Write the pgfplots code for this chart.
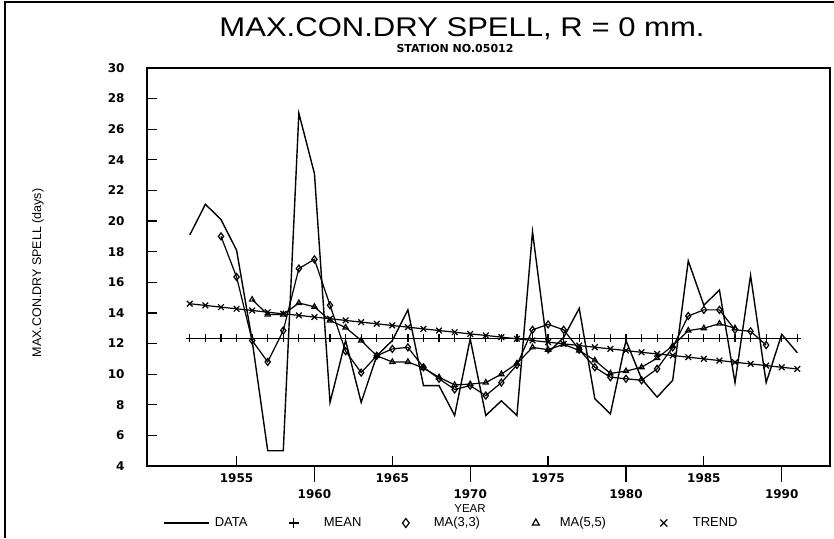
\documentclass[border=0pt]{standalone}
\usepackage{pgfplots}
\pgfplotsset{compat=1.18}
\usepackage{fontspec}
\setmainfont{Liberation Sans}
\newfontfamily\titlefont{Liberation Sans}[FakeStretch=1.15]
\newfontfamily\tickfont{DejaVu Sans}
\begin{document}
\begin{tikzpicture}[x=1pt,y=1pt]
\useasboundingbox (0pt,0pt) rectangle (834pt,-538pt);
\draw[line width=2pt] (5pt,-538pt) -- (5pt,-2pt) -- (834pt,-2pt);
\node[anchor=base,font=\titlefont\fontsize{27}{27}\selectfont] at (462pt,-36pt) {MAX.CON.DRY SPELL, R = 0 mm.};
\node[anchor=base,font=\tickfont\bfseries\fontsize{11}{11}\selectfont] at (455pt,-52pt) {STATION NO.05012};
\node[rotate=90,font=\fontsize{12.5}{12.5}\selectfont] at (38pt,-273pt) {MAX.CON.DRY SPELL (days)};
\node[anchor=base,font=\fontsize{11.5}{11.5}\selectfont] at (470pt,-512pt) {YEAR};
\begin{axis}[
  at={(147pt,-466pt)}, anchor=south west,
  scale only axis, width=683pt, height=398pt,
  xmin=1949.25, xmax=1993.1, ymin=4, ymax=30,
  axis line style={line width=1.4pt},
  xtick={1955,1965,1975,1985},
  xticklabels={1955,1965,1975,1985},
  extra x ticks={1960,1970,1980,1990},
  extra x tick labels={1960,1970,1980,1990},
  extra x tick style={tick align=outside, major tick length=16pt},
  ytick={4,6,...,30},
  tick align=inside, major tick length=10pt,
  tick style={line width=1.2pt, black},
  xtick pos=bottom, ytick pos=left,
  ticklabel style={font=\tickfont\bfseries\fontsize{12}{12}\selectfont},
  xticklabel style={yshift=-4pt},
  yticklabel style={xshift=-19pt},
  /pgf/number format/assume math mode=true,
  legend columns=5,
  legend style={at={(axis description cs:0.0234,-0.1432)}, anchor=west, draw=none, fill=none,
    inner sep=0pt, column sep=0pt, nodes={inner sep=0pt}, font=\fontsize{13}{13}\selectfont},
]
\addlegendimage{legend image code/.code={\draw[line width=1.3pt] (0pt,0pt) -- (45pt,0pt); \path[draw=none,fill=none] (0pt,-5pt) rectangle (51pt,5pt);}}
\addlegendentry{\makebox[73pt][l]{DATA}}
\addlegendimage{legend image code/.code={\draw[mark=+,mark size=5pt,line width=1.2pt] plot coordinates {(0pt,0pt)}; \path[draw=none,fill=none] (-6pt,-5pt) rectangle (30pt,5pt);}}
\addlegendentry{\makebox[76pt][l]{MEAN}}
\addlegendimage{legend image code/.code={\draw[mark=diamond,mark size=4.5pt,line width=1.2pt] plot coordinates {(0pt,0pt)}; \path[draw=none,fill=none] (-6pt,-5pt) rectangle (28pt,5pt);}}
\addlegendentry{\makebox[96pt][l]{MA(3,3)}}
\addlegendimage{legend image code/.code={\draw[mark=triangle,mark size=4pt,line width=1.2pt] plot coordinates {(0pt,0pt)}; \path[draw=none,fill=none] (-6pt,-5pt) rectangle (24pt,5pt);}}
\addlegendentry{\makebox[98pt][l]{MA(5,5)}}
\addlegendimage{legend image code/.code={\draw[mark=x,mark size=5pt,line width=1.2pt] plot coordinates {(0pt,0pt)}; \path[draw=none,fill=none] (-6pt,-5pt) rectangle (29pt,5pt);}}
\addlegendentry{\makebox[50pt][l]{TREND}}

% DATA
\addplot[forget plot, black, line width=1.4pt, no marks] coordinates {
(1952,19.1)(1953,21.1)(1954,20.1)(1955,18.1)(1956,12.2)(1957,5.0)(1958,5.0)(1959,27.05)(1960,23.1)(1961,8.15)
(1962,12.2)(1963,8.15)(1964,11.2)(1965,12.2)(1966,14.2)(1967,9.25)(1968,9.25)(1969,7.3)(1970,12.3)(1971,7.3)
(1972,8.26)(1973,7.3)(1974,19.3)(1975,11.4)(1976,12.4)(1977,14.3)(1978,8.4)(1979,7.4)(1980,12.2)(1981,9.7)
(1982,8.5)(1983,9.6)(1984,17.4)(1985,14.5)(1986,15.5)(1987,9.45)(1988,16.45)(1989,9.45)(1990,12.6)(1991,11.4)};
% MEAN
\addplot[forget plot, black, line width=1.2pt, mark=+, mark size=4pt] coordinates {
(1952,12.35)(1953,12.35)(1954,12.35)(1955,12.35)(1956,12.35)(1957,12.35)(1958,12.35)(1959,12.35)(1960,12.35)(1961,12.35)
(1962,12.35)(1963,12.35)(1964,12.35)(1965,12.35)(1966,12.35)(1967,12.35)(1968,12.35)(1969,12.35)(1970,12.35)(1971,12.35)
(1972,12.35)(1973,12.35)(1974,12.35)(1975,12.35)(1976,12.35)(1977,12.35)(1978,12.35)(1979,12.35)(1980,12.35)(1981,12.35)
(1982,12.35)(1983,12.35)(1984,12.35)(1985,12.35)(1986,12.35)(1987,12.35)(1988,12.35)(1989,12.35)(1990,12.35)(1991,12.35)};
% MA(3,3)
\addplot[forget plot, black, line width=1.2pt, mark=diamond, mark size=3.5pt] coordinates {
(1954,19.0)(1955,16.35)(1956,12.2)(1957,10.8)(1958,12.85)(1959,16.9)(1960,17.5)(1961,14.5)(1962,11.5)(1963,10.1)
(1964,11.2)(1965,11.65)(1966,11.75)(1967,10.45)(1968,9.7)(1969,9.0)(1970,9.25)(1971,8.6)(1972,9.45)(1973,10.6)
(1974,12.9)(1975,13.25)(1976,12.9)(1977,11.6)(1978,10.45)(1979,9.8)(1980,9.7)(1981,9.6)(1982,10.35)(1983,11.75)
(1984,13.8)(1985,14.2)(1986,14.2)(1987,12.9)(1988,12.8)(1989,11.9)};
% MA(5,5)
\addplot[forget plot, black, line width=1.2pt, mark=triangle, mark size=3pt] coordinates {
(1956,14.87)(1957,13.9)(1958,13.9)(1959,14.65)(1960,14.4)(1961,13.5)(1962,13.05)(1963,12.2)(1964,11.2)(1965,10.8)
(1966,10.8)(1967,10.4)(1968,9.8)(1969,9.3)(1970,9.35)(1971,9.45)(1972,10.0)(1973,10.7)(1974,11.75)(1975,11.6)
(1976,11.95)(1977,11.55)(1978,10.9)(1979,10.05)(1980,10.2)(1981,10.45)(1982,11.05)(1983,11.85)(1984,12.85)(1985,13.0)
(1986,13.3)(1987,13.0)};
% TREND
\addplot[forget plot, black, line width=1.2pt, mark=x, mark size=4pt] coordinates {
(1952,14.60)(1953,14.49)(1954,14.38)(1955,14.27)(1956,14.16)(1957,14.05)(1958,13.94)(1959,13.84)(1960,13.73)(1961,13.62)
(1962,13.51)(1963,13.40)(1964,13.29)(1965,13.18)(1966,13.07)(1967,12.96)(1968,12.85)(1969,12.74)(1970,12.63)(1971,12.53)
(1972,12.42)(1973,12.31)(1974,12.20)(1975,12.09)(1976,11.98)(1977,11.87)(1978,11.76)(1979,11.65)(1980,11.54)(1981,11.43)
(1982,11.32)(1983,11.22)(1984,11.11)(1985,11.00)(1986,10.89)(1987,10.78)(1988,10.67)(1989,10.56)(1990,10.45)(1991,10.34)};
\end{axis}
\end{tikzpicture}
\end{document}
